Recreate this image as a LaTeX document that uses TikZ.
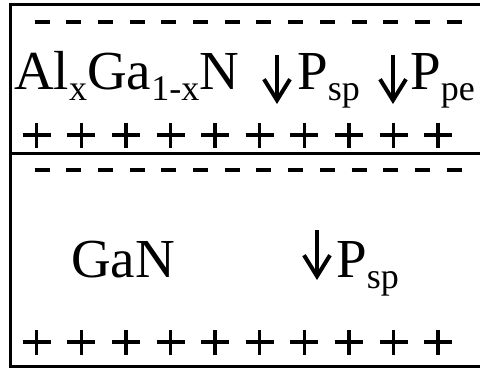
\documentclass[tikz,border=0pt]{standalone}
\usepackage{fontspec}
\setmainfont{Liberation Serif}
\usetikzlibrary{arrows.meta}
\newcommand{\lowsub}[1]{\raisebox{-11pt}{\fontsize{36}{36}\selectfont #1}}

\begin{document}
\begin{tikzpicture}[x=1pt,y=-1pt,
	layer/.style={font=\fontsize{55}{55}\selectfont, inner sep=0pt, anchor=base west},
	pol/.style={line width=4pt, -{Straight Barb[length=21pt,width=26pt]}},
	dashmark/.style={line width=4pt},
	plusmark/.style={line width=3.5pt}]
		\useasboundingbox (0,0) rectangle (480,369);
		\clip (0,0) rectangle (480,369);
		% box and interface
		\draw[line width=3pt] (10.5,4.5) rectangle (490,366);
		\draw[line width=3pt] (10.5,154) -- (490,154);
		% charges
		\foreach \i in {0,...,13} {
			\draw[dashmark] ({34.5+31.7*\i},22) -- ++(15,0);
			\draw[dashmark] ({34.5+31.7*\i},170) -- ++(15,0);
		}
		\foreach \i in {0,...,9} {
			\draw[plusmark] ({22.7+44.6*\i},135) -- ++(28,0);
			\draw[plusmark] ({36.7+44.6*\i},123) -- ++(0,25);
			\draw[plusmark] ({22.7+44.6*\i},342) -- ++(28,0);
			\draw[plusmark] ({36.7+44.6*\i},330) -- ++(0,25);
		}
		% labels
		\node[layer] (alga) at (14,90) {Al\lowsub{x}Ga\lowsub{1-x}N};
		\node[layer] (psp) at (297,90) {P\lowsub{sp}};
		\node[layer] (ppe) at (410,90) {P\lowsub{pe}};
		\node[layer] (gan) at (71,277) {GaN};
		\node[layer] (pspgan) at (336,277) {P\lowsub{sp}};
		% polarisation arrows
		\coordinate (a1) at (277,55);
		\coordinate (b1) at (277,104);
		\coordinate (a2) at (393,55);
		\coordinate (b2) at (393,104);
		\coordinate (a3) at (317,230);
		\coordinate (b3) at (317,280);
		\draw[pol] (a1) -- (b1);
		\draw[pol] (a2) -- (b2);
		\draw[pol] (a3) -- (b3);
	\end{tikzpicture}
\end{document}
